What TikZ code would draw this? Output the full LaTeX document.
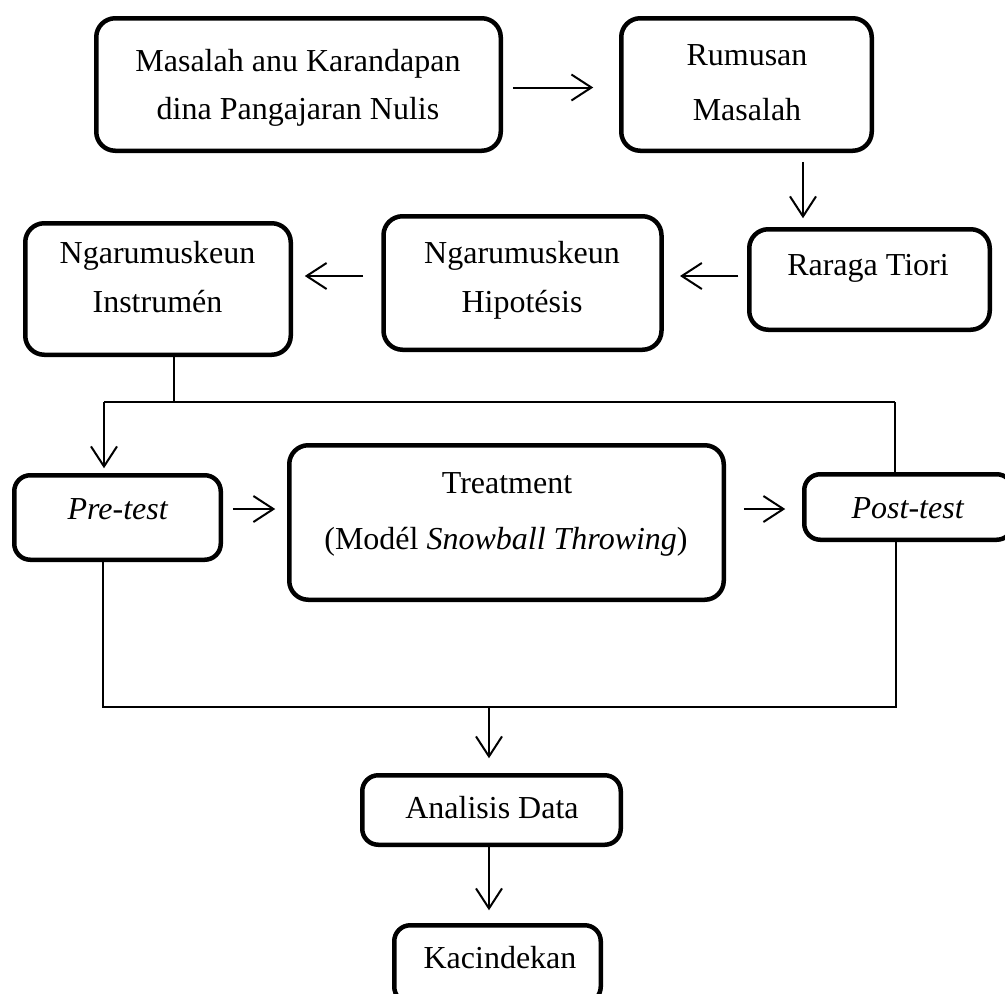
\documentclass[tikz,border=0pt]{standalone}
\usepackage{fontspec}
\setmainfont{Liberation Serif}
\usetikzlibrary{arrows.meta}
\begin{document}
\begin{tikzpicture}[x=1pt,y=-1pt,
  boxnode/.style={draw, line width=4.5pt, rounded corners=19pt, inner sep=0pt, outer sep=0pt},
  txt/.style={inner sep=0pt, anchor=base, font=\fontsize{32}{38}\selectfont},
  arr/.style={line width=2pt, -{Straight Barb[length=20pt,width=26pt]}},
  conn/.style={line width=1.4pt}]
\useasboundingbox (0,0) rectangle (1005,994);
\clip (0,0) rectangle (1005,994);
% boxes
\node[boxnode, minimum width=404.5pt, minimum height=132.5pt] (b1) at (298.5,84.5) {};
\node[boxnode, minimum width=250.5pt, minimum height=132.5pt] (b2) at (746.5,84.5) {};
\node[boxnode, minimum width=240.5pt, minimum height=100.5pt] (b3) at (869.5,279.5) {};
\node[boxnode, minimum width=278pt, minimum height=133.5pt] (b4) at (522.5,283) {};
\node[boxnode, minimum width=265.5pt, minimum height=131.5pt] (b5) at (158,289) {};
\node[boxnode, minimum width=206.5pt, minimum height=84.5pt, rounded corners=16pt] (b6) at (117.5,517.5) {};
\node[boxnode, minimum width=434.5pt, minimum height=154.5pt] (b7) at (506.5,522.5) {};
\node[boxnode, minimum width=208.5pt, minimum height=65.5pt, rounded corners=16pt] (b8) at (908.5,507) {};
\node[boxnode, minimum width=258.5pt, minimum height=69.5pt, rounded corners=16pt] (b9) at (491.5,810) {};
\node[boxnode, minimum width=206.5pt, minimum height=77.5pt, rounded corners=16pt] (b10) at (497.5,964) {};
% texts
\node[txt] (t1a) at (298,71) {Masalah anu Karandapan};
\node[txt] (t1b) at (298,119) {dina Pangajaran Nulis};
\node[txt] (t2a) at (747,65) {Rumusan};
\node[txt] (t2b) at (747,120) {Masalah};
\node[txt] (t3) at (868,275) {Raraga Tiori};
\node[txt] (t4a) at (522,263) {Ngarumuskeun};
\node[txt] (t4b) at (522,312) {Hipotésis};
\node[txt] (t5a) at (157.5,263) {Ngarumuskeun};
\node[txt] (t5b) at (157.5,312) {Instrumén};
\node[txt] (t6) at (118,519) {\textit{Pre-test}};
\node[txt] (t7a) at (507,493) {Treatment};
\node[txt] (t7b) at (506,549) {(Modél \textit{Snowball Throwing})};
\node[txt] (t8) at (908,518) {\textit{Post-test}};
\node[txt] (t9) at (492,818) {Analisis Data};
\node[txt] (t10) at (500,968) {Kacindekan};
% junction coordinates
\coordinate (jT) at (500,402);
\coordinate (jL) at (104,402);
\coordinate (jR) at (895,402);
\coordinate (bL) at (103,707);
\coordinate (bR) at (896,707);
\coordinate (bM) at (489,707);
% arrows top
\draw[arr, shorten <=12pt, shorten >=28pt] ([yshift=-3pt]b1.east) -- ([yshift=-3pt]b1.east -| b2.west);
\draw[arr, shorten <=11pt, shorten >=11pt] ([xshift=56.5pt]b2.south) -- ([xshift=56.5pt]b2.south |- b3.north);
\draw[arr, shorten <=11pt, shorten >=18.5pt] ([yshift=3.5pt]b3.west) -- ([yshift=3.5pt]b3.west -| b4.east);
\draw[arr, shorten <=20.5pt, shorten >=14pt] ([yshift=7pt]b4.west) -- ([yshift=7pt]b4.west -| b5.east);
% distribution lines
\draw[conn] ([xshift=16pt]b5.south) -- ([xshift=16pt]b5.south |- jT);
\draw[conn] (jL) -- (jR);
\draw[conn] (jR) -- (jR |- b8.north);
\draw[arr, shorten >=7pt] (jL) -- (jL |- b6.north);
\draw[arr, shorten <=12pt, shorten >=14pt] ([yshift=8.5pt]b6.east) -- ([yshift=8.5pt]b6.east -| b7.west);
\draw[arr, shorten <=20pt, shorten >=19pt] ([yshift=13.5pt]b7.east) -- ([yshift=13.5pt]b7.east -| b8.west);
% collection lines
\draw[conn] (b6.south -| bL) -- (bL) -- (bR) -- (b8.south -| bR);
\draw[arr, shorten >=17pt] (bM) -- (bM |- b9.north);
\draw[arr, shorten >=15pt] (b9.south -| bM) -- (b10.north -| bM);
\end{tikzpicture}
\end{document}
